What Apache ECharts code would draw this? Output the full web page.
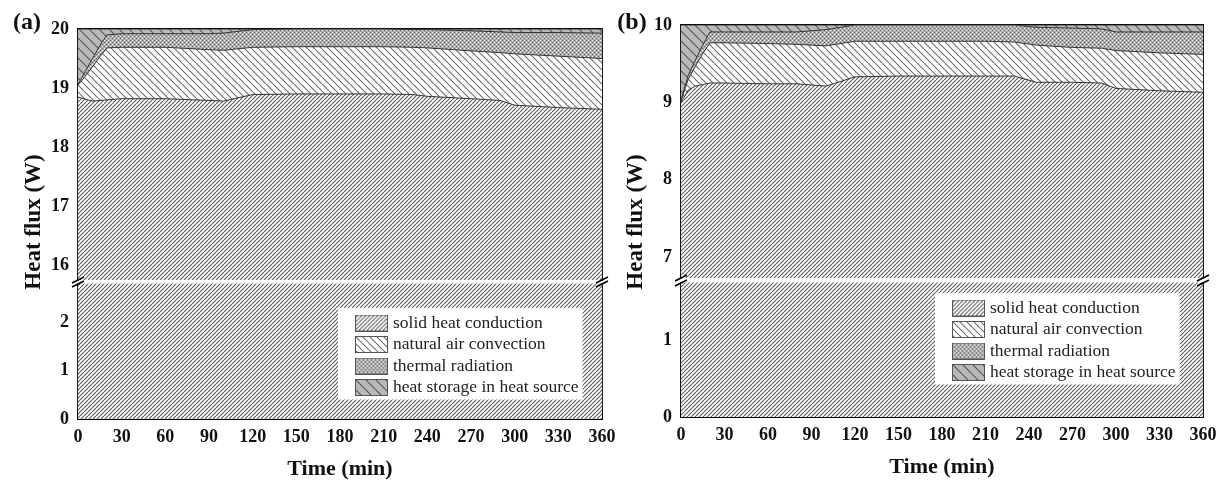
<!DOCTYPE html>
<html><head><meta charset="utf-8">
<script src="https://cdn.jsdelivr.net/npm/echarts@6/dist/echarts.min.js"></script>
<style>html,body{margin:0;padding:0;background:#fff}#c{width:1223px;height:485px}</style>
</head><body><div id="c"></div>
<script>
// ---------------- data ----------------
const seriesNames = ['solid heat conduction', 'natural air convection', 'thermal radiation', 'heat storage in heat source'];

// panel (a): total heat input 20 W
const timesA   = [0, 5, 10, 15, 20, 30, 60, 90, 100, 120, 150, 180, 210, 230, 240, 270, 290, 300, 330, 360];
const solidA   = [18.85, 18.81, 18.78, 18.79, 18.80, 18.82, 18.82, 18.79, 18.78, 18.89, 18.90, 18.90, 18.90, 18.89, 18.86, 18.82, 18.79, 18.71, 18.67, 18.64];
const convA    = [0.20, 0.39, 0.58, 0.74, 0.88, 0.87, 0.87, 0.86, 0.86, 0.80, 0.80, 0.80, 0.80, 0.80, 0.82, 0.81, 0.81, 0.87, 0.87, 0.86];
const radA     = [0.01, 0.08, 0.14, 0.19, 0.22, 0.23, 0.23, 0.27, 0.29, 0.30, 0.30, 0.30, 0.30, 0.30, 0.31, 0.34, 0.35, 0.36, 0.40, 0.43];
const storA    = [0.94, 0.72, 0.50, 0.28, 0.10, 0.08, 0.08, 0.08, 0.07, 0.01, 0.00, 0.00, 0.00, 0.01, 0.01, 0.03, 0.05, 0.06, 0.06, 0.07];

// panel (b): total heat input 10 W
const timesB   = [0, 5, 10, 15, 20, 30, 60, 80, 100, 120, 150, 180, 210, 230, 245, 270, 290, 300, 330, 360];
const solidB   = [9.00, 9.16, 9.21, 9.23, 9.25, 9.25, 9.24, 9.24, 9.21, 9.33, 9.34, 9.34, 9.34, 9.34, 9.26, 9.26, 9.25, 9.18, 9.15, 9.13];
const convB    = [0.02, 0.14, 0.26, 0.40, 0.52, 0.52, 0.52, 0.51, 0.52, 0.46, 0.45, 0.45, 0.45, 0.44, 0.48, 0.45, 0.45, 0.49, 0.49, 0.49];
const radB     = [0.01, 0.05, 0.08, 0.11, 0.14, 0.14, 0.15, 0.16, 0.21, 0.21, 0.21, 0.21, 0.21, 0.22, 0.23, 0.25, 0.25, 0.24, 0.27, 0.29];
const storB    = [0.97, 0.65, 0.45, 0.26, 0.09, 0.09, 0.09, 0.09, 0.06, 0.00, 0.00, 0.00, 0.00, 0.00, 0.03, 0.04, 0.05, 0.09, 0.09, 0.09];

// tick labels
const xTicks        = [0, 30, 60, 90, 120, 150, 180, 210, 240, 270, 300, 330, 360];
const yTicksAUpper  = [16, 17, 18, 19, 20];
const yMinorAUpper  = [16.5, 17.5, 18.5, 19.5];
const yTicksALower  = [0, 1, 2];
const yMinorALower  = [0.5, 1.5, 2.5];
const yTicksBUpper  = [7, 8, 9, 10];
const yMinorBUpper  = [7.5, 8.5, 9.5];
const yTicksBLower  = [0, 1];
const yMinorBLower  = [0.5, 1.5];

// ---------------- patterns ----------------
function hatch(period, dir, bg, fg, lw) {
  const c = document.createElement('canvas');
  c.width = period; c.height = period;
  const g = c.getContext('2d');
  g.fillStyle = bg; g.fillRect(0, 0, period, period);
  g.strokeStyle = fg; g.lineWidth = lw;
  g.beginPath();
  for (let k = -1; k <= 1; k++) {
    if (dir === '/') { g.moveTo(k * period, period); g.lineTo(k * period + period, 0); }
    else { g.moveTo(k * period, 0); g.lineTo(k * period + period, period); }
  }
  g.stroke();
  return { image: c, repeat: 'repeat' };
}
function checker() {
  const c = document.createElement('canvas');
  c.width = 4; c.height = 4;
  const g = c.getContext('2d');
  g.fillStyle = '#acacac'; g.fillRect(0, 0, 4, 4);
  g.fillStyle = '#f6f6f6'; g.fillRect(0, 0, 1, 1); g.fillRect(2, 2, 1, 1);
  g.fillStyle = '#666666'; g.fillRect(2, 0, 1, 1); g.fillRect(0, 2, 1, 1);
  return { image: c, repeat: 'repeat' };
}
const fills = [
  hatch(4, '/', '#ffffff', '#5e5e5e', 1.1),
  hatch(7, '\\', '#ffffff', '#6e6e6e', 1.1),
  checker(),
  hatch(10, '\\', '#b9b9b9', '#555555', 1.1)
];
// legend swatches rendered at their exact size so the hatch stays crisp
function swatch(fill, w, h) {
  const c = document.createElement('canvas');
  c.width = w; c.height = h;
  const g = c.getContext('2d');
  g.fillStyle = g.createPattern(fill.image, 'repeat');
  g.fillRect(0, 0, w, h);
  g.strokeStyle = '#555555'; g.lineWidth = 1;
  g.strokeRect(0.5, 0.5, w - 1, h - 1);
  return 'image://' + c.toDataURL('image/png');
}
const SW = 33, SH = 17;
const swatches = fills.map(f => swatch(f, SW, SH));

// ---------------- layout ----------------
const panels = [
  { key: 'a', left: 78,  width: 524, upTop: 29, upH: 251, upMin: 15.75, upMax: 20, loTop: 284, loH: 135, loMax: 2.8,
    times: timesA, vals: [solidA, convA, radA, storA],
    upTicks: yTicksAUpper, upMinor: yMinorAUpper, loTicks: yTicksALower, loMinor: yMinorALower,
    legend: { left: 338, top: 308 }, label: '(a)', labelX: 27, labelY: 23, titleX: 34 },
  { key: 'b', left: 681, width: 522, upTop: 25, upH: 253, upMin: 6.73, upMax: 10, loTop: 283, loH: 134, loMax: 1.74,
    times: timesB, vals: [solidB, convB, radB, storB],
    upTicks: yTicksBUpper, upMinor: yMinorBUpper, loTicks: yTicksBLower, loMinor: yMinorBLower,
    legend: { left: 935, top: 293 }, label: '(b)', labelX: 632, labelY: 23, titleX: 636 }
];

const FONT = 'Liberation Serif';
const grid = [], xAxis = [], yAxis = [], series = [], legend = [], graphic = [];

function yAxesFor(gi, min, max, ticks, minor) {
  const base = yAxis.length;
  const common = { type: 'value', gridIndex: gi, min: min, max: max, splitLine: { show: false } };
  yAxis.push(Object.assign({}, common, {
    position: 'left',
    axisLine: { show: true, lineStyle: { color: '#000', width: 1.8 } },
    axisTick: { show: true, inside: true, length: 6, customValues: ticks, lineStyle: { color: '#000', width: 1.6 } },
    axisLabel: { show: true, customValues: ticks, margin: 9, fontFamily: FONT, fontWeight: 'bold', fontSize: 18, color: '#111' }
  }));
  yAxis.push(Object.assign({}, common, {
    position: 'left',
    axisLine: { show: false },
    axisTick: { show: true, inside: true, length: 4, customValues: minor, lineStyle: { color: '#000', width: 1.4 } },
    axisLabel: { show: false }
  }));
  yAxis.push(Object.assign({}, common, {
    position: 'right',
    axisLine: { show: true, lineStyle: { color: '#000', width: 1.8 } },
    axisTick: { show: true, inside: true, length: 6, customValues: ticks, lineStyle: { color: '#000', width: 1.6 } },
    axisLabel: { show: false }
  }));
  yAxis.push(Object.assign({}, common, {
    position: 'right',
    axisLine: { show: false },
    axisTick: { show: true, inside: true, length: 4, customValues: minor, lineStyle: { color: '#000', width: 1.4 } },
    axisLabel: { show: false }
  }));
  return base;
}

function areaSeries(name, fill, xi, yi, data, z) {
  return {
    type: 'line', name: name, xAxisIndex: xi, yAxisIndex: yi, z: z,
    data: data, symbol: 'none', silent: true, clip: true,
    lineStyle: { color: '#333333', width: 1 },
    itemStyle: { color: fill },
    areaStyle: { color: fill, opacity: 1, origin: 'start' },
    emphasis: { disabled: true }
  };
}

panels.forEach((p, pi) => {
  const gUp = grid.length;
  grid.push({ left: p.left, top: p.upTop, width: p.width, height: p.upH });
  const gLo = grid.length;
  grid.push({ left: p.left, top: p.loTop, width: p.width, height: p.loH });

  // x axes
  const xUp = xAxis.length;
  xAxis.push({ type: 'value', gridIndex: gUp, position: 'top', min: 0, max: 360,
    axisLine: { show: true, lineStyle: { color: '#000', width: 1.8 } },
    axisTick: { show: false }, axisLabel: { show: false }, splitLine: { show: false } });
  const xLo = xAxis.length;
  xAxis.push({ type: 'value', gridIndex: gLo, position: 'bottom', min: 0, max: 360, interval: 30,
    name: 'Time (min)', nameLocation: 'middle', nameGap: 39,
    nameTextStyle: { fontFamily: FONT, fontWeight: 'bold', fontSize: 22, color: '#111' },
    axisLine: { show: true, lineStyle: { color: '#000', width: 1.8 } },
    axisTick: { show: true, inside: true, length: 7, customValues: xTicks, lineStyle: { color: '#000', width: 1.6 } },
    minorTick: { show: true, splitNumber: 2, length: 4, lineStyle: { color: '#000', width: 1.4 } },
    axisLabel: { show: true, customValues: xTicks, margin: 9, fontFamily: FONT, fontWeight: 'bold', fontSize: 18, color: '#111' },
    splitLine: { show: false } });

  const yUp = yAxesFor(gUp, p.upMin, p.upMax, p.upTicks, p.upMinor);
  const yLo = yAxesFor(gLo, 0, p.loMax, p.loTicks, p.loMinor);

  // cumulative tops of each layer (layers drawn top-down so that each lower layer paints over)
  const cum = [];
  p.vals.forEach((arr, si) => {
    cum.push(arr.map((v, i) => (si ? cum[si - 1][i] : 0) + v));
  });
  for (let si = seriesNames.length - 1; si >= 0; si--) {
    series.push(areaSeries(seriesNames[si], fills[si], xUp, yUp,
      p.times.map((t, i) => [t, +cum[si][i].toFixed(3)]), 2 + (seriesNames.length - si)));
  }
  // lower part shows the base of the solid conduction layer
  series.push(areaSeries(seriesNames[0], fills[0], xLo, yLo,
    p.times.map((t, i) => [t, p.vals[0][i]]), 2));

  legend.push({
    orient: 'vertical', left: p.legend.left, top: p.legend.top,
    backgroundColor: '#ffffff', padding: [6, 4, 3, 17],
    itemWidth: SW, itemHeight: SH, itemGap: 3.5, selectedMode: false,
    textStyle: { fontFamily: FONT, fontSize: 17.5, color: '#222' },
    data: seriesNames.map((n, si) => ({ name: n, icon: swatches[si] }))
  });

  // axis break marks
  const yU = p.upTop + p.upH, yL = p.loTop;
  [p.left, p.left + p.width].forEach(X => {
    [yU, yL].forEach(Y => {
      graphic.push({ type: 'line', silent: true, z: 100,
        shape: { x1: X - 6, y1: Y + 3, x2: X + 6, y2: Y - 3 },
        style: { stroke: '#000', lineWidth: 1.6 } });
    });
  });
  // panel label
  graphic.push({ type: 'text', x: p.labelX, y: p.labelY, silent: true,
    style: { text: p.label, font: 'bold 24px "' + FONT + '"', fill: '#111',
      align: 'center', verticalAlign: 'middle', textAlign: 'center', textVerticalAlign: 'middle' } });
  // y-axis title
  graphic.push({ type: 'text', x: p.titleX, y: 222, rotation: Math.PI / 2, silent: true,
    style: { text: 'Heat flux (W)', font: 'bold 23px "' + FONT + '"', fill: '#111',
      align: 'center', verticalAlign: 'middle', textAlign: 'center', textVerticalAlign: 'middle' } });
});

const chart = echarts.init(document.getElementById('c'), null, { renderer: 'canvas' });
chart.setOption({
  animation: false,
  backgroundColor: '#ffffff',
  grid: grid, xAxis: xAxis, yAxis: yAxis, series: series, legend: legend, graphic: graphic
});
</script>
</body></html>
